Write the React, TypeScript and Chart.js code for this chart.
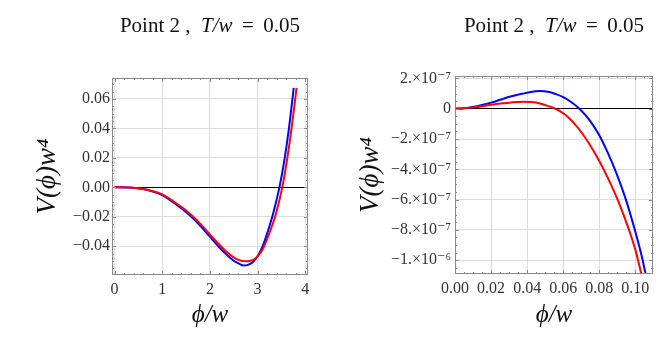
import React, { useEffect, useRef } from "react";
import { Chart, registerables } from "chart.js";

Chart.register(...registerables);

const SERIF = '"Liberation Serif", "DejaVu Serif", serif';

// ---------- shared text ----------
const titleParts = ["Point 2 ,  ", "T/w", " \u2009=\u2009 0.05"];
const xAxisTitle = "ϕ/w";
const yAxisTitle = "V(ϕ)w⁴";

// ---------- left panel ----------
const leftXTicks = [0, 1, 2, 3, 4];
const leftXTickLabels = ["0", "1", "2", "3", "4"];
const leftYTicks = [-0.04, -0.02, 0, 0.02, 0.04, 0.06];
const leftYTickLabels = ["−0.04", "−0.02", "0.00", "0.02", "0.04", "0.06"];

const leftBlueX = [0, 0.3, 0.6, 0.8, 1.0, 1.3, 1.5, 1.65, 1.8, 2.0, 2.2, 2.35, 2.5, 2.6, 2.71, 2.8, 2.9, 3.0, 3.12, 3.22, 3.33, 3.46, 3.57, 3.66, 3.76];
const leftBlueY = [0, -0.0001, -0.0012, -0.0028, -0.0052, -0.0118, -0.0167, -0.0212, -0.0262, -0.0335, -0.0408, -0.0456, -0.0498, -0.0516, -0.0531, -0.0526, -0.0508, -0.0468, -0.039, -0.0295, -0.0176, 0, 0.0197, 0.04, 0.0675];

const leftRedX = [0, 0.3, 0.6, 0.8, 1.0, 1.3, 1.5, 1.65, 1.8, 2.0, 2.2, 2.35, 2.5, 2.6, 2.755, 2.85, 2.93, 3.02, 3.12, 3.25, 3.39, 3.52, 3.625, 3.715, 3.82];
const leftRedY = [0, -0.0001, -0.0011, -0.0026, -0.0048, -0.011, -0.0157, -0.02, -0.0248, -0.0319, -0.039, -0.0437, -0.0475, -0.0492, -0.0502, -0.0498, -0.0488, -0.0462, -0.0413, -0.031, -0.0176, 0, 0.0197, 0.04, 0.0675];

// ---------- right panel ----------
const rightXTicks = [0, 0.02, 0.04, 0.06, 0.08, 0.1];
const rightXTickLabels = ["0.00", "0.02", "0.04", "0.06", "0.08", "0.10"];
const rightYTicks = [-1e-6, -8e-7, -6e-7, -4e-7, -2e-7, 0, 2e-7];
const rightYTickLabels = ["−1.×10⁻⁶", "−8.×10⁻⁷", "−6.×10⁻⁷", "−4.×10⁻⁷", "−2.×10⁻⁷", "0", "2.×10⁻⁷"];

const rightBlueX = [0, 0.005, 0.0107, 0.015, 0.02, 0.025, 0.0302, 0.035, 0.04, 0.0468, 0.0524, 0.056, 0.06, 0.064, 0.069, 0.0746, 0.08, 0.0845, 0.089, 0.0945, 0.0995, 0.1035, 0.1055, 0.1068];
const rightBlueY = [0, 3e-9, 1.3e-8, 2.4e-8, 4.0e-8, 5.9e-8, 7.9e-8, 9.3e-8, 1.06e-7, 1.17e-7, 1.1e-7, 9.6e-8, 7.6e-8, 4.8e-8, 0, -7.5e-8, -1.75e-7, -2.85e-7, -4.1e-7, -5.9e-7, -7.9e-7, -9.7e-7, -1.08e-6, -1.15e-6];

const rightRedX = [0, 0.005, 0.0107, 0.015, 0.02, 0.025, 0.0302, 0.0375, 0.042, 0.045, 0.0506, 0.0557, 0.06, 0.0635, 0.0671, 0.071, 0.0746, 0.08, 0.0855, 0.0905, 0.0965, 0.1, 0.1031, 0.1045];
const rightRedY = [0, 2.5e-9, 1.0e-8, 1.7e-8, 2.6e-8, 3.4e-8, 4.0e-8, 4.6e-8, 4.5e-8, 4.1e-8, 2.2e-8, 0, -3.0e-8, -6.5e-8, -1.12e-7, -1.7e-7, -2.35e-7, -3.45e-7, -4.75e-7, -6.1e-7, -8.0e-7, -9.3e-7, -1.08e-6, -1.15e-6];

const BLUE = "#0000ff";
const RED = "#ff0000";

const toPts = (xs: number[], ys: number[]) => xs.map((x, i) => ({ x, y: ys[i] }));

const framePlugin = {
  id: "frame",
  afterDatasetsDraw(chart: any, _args: any, opts: any) {
    const { ctx, chartArea: a } = chart;
    const xs = chart.scales.x;
    const ys = chart.scales.y;
    ctx.save();
    ctx.strokeStyle = opts.color;
    ctx.lineWidth = 1;
    ctx.strokeRect(Math.round(a.left) + 0.5, Math.round(a.top) + 0.5, Math.round(a.right - a.left) - 1, Math.round(a.bottom - a.top) - 1);
    const ticks = (scale: any, step: number, majorStep: number, horiz: boolean) => {
      const k0 = Math.ceil(scale.min / step - 1e-9);
      const k1 = Math.floor(scale.max / step + 1e-9);
      for (let k = k0; k <= k1; k++) {
        const v = k * step;
        const r = v / majorStep;
        const major = Math.abs(r - Math.round(r)) < 1e-6;
        const len = major ? opts.major : opts.minor;
        const p = Math.round(scale.getPixelForValue(v)) + 0.5;
        ctx.beginPath();
        if (horiz) {
          ctx.moveTo(p, a.bottom);
          ctx.lineTo(p, a.bottom - len);
          ctx.moveTo(p, a.top);
          ctx.lineTo(p, a.top + len);
        } else {
          ctx.moveTo(a.left, p);
          ctx.lineTo(a.left + len, p);
          ctx.moveTo(a.right, p);
          ctx.lineTo(a.right - len, p);
        }
        ctx.stroke();
      }
    };
    ticks(xs, opts.xMinor, opts.xMajor, true);
    ticks(ys, opts.yMinor, opts.yMajor, false);
    ctx.restore();
  },
};

const titlePlugin = {
  id: "mixedTitle",
  afterDraw(chart: any, _args: any, opts: any) {
    const { ctx, chartArea: a } = chart;
    const fonts = [`${opts.size}px ${SERIF}`, `italic ${opts.size}px ${SERIF}`, `${opts.size}px ${SERIF}`];
    ctx.save();
    let total = 0;
    const widths = titleParts.map((t, i) => {
      ctx.font = fonts[i];
      const w = ctx.measureText(t).width;
      total += w;
      return w;
    });
    let x = (a.left + a.right) / 2 - total / 2;
    ctx.fillStyle = "#111";
    ctx.textBaseline = "alphabetic";
    ctx.textAlign = "left";
    titleParts.forEach((t, i) => {
      ctx.font = fonts[i];
      ctx.fillText(t, x, opts.y);
      x += widths[i];
    });
    ctx.restore();
  },
};

type PanelSpec = {
  width: number;
  height: number;
  pad: { top: number; right: number };
  yAxisW: number;
  xAxisH: number;
  xMin: number;
  xMax: number;
  yMin: number;
  yMax: number;
  xTicks: number[];
  xLabels: string[];
  yTicks: number[];
  yLabels: string[];
  blue: { x: number; y: number }[];
  red: { x: number; y: number }[];
  yTitlePad: number;
  yLabelPad: number;
  xMinor: number;
  xMajor: number;
  yMinor: number;
  yMajor: number;
};

function buildConfig(p: PanelSpec): any {
  const tickFont = { family: SERIF, size: 16 };
  return {
    type: "line",
    data: {
      datasets: [
        { label: "red", data: p.red, borderColor: RED, borderWidth: 2, pointRadius: 0, cubicInterpolationMode: "monotone", fill: false, order: 0, clip: 0 },
        { label: "blue", data: p.blue, borderColor: BLUE, borderWidth: 2, pointRadius: 0, cubicInterpolationMode: "monotone", fill: false, order: 1, clip: 0 },
      ],
    },
    options: {
      animation: false,
      responsive: false,
      events: [],
      layout: { padding: { top: p.pad.top, right: p.pad.right, left: 0, bottom: 0 } },
      plugins: {
        legend: { display: false },
        tooltip: { enabled: false },
        title: { display: false },
        frame: { color: "#8a8a8a", major: 4, minor: 2, xMinor: p.xMinor, xMajor: p.xMajor, yMinor: p.yMinor, yMajor: p.yMajor },
        mixedTitle: { y: 32, size: 21 },
      },
      scales: {
        x: {
          type: "linear",
          bounds: "data",
          min: p.xMin,
          max: p.xMax,
          afterBuildTicks: (s: any) => {
            s.ticks = p.xTicks.map((v) => ({ value: v }));
          },
          afterFit: (s: any) => {
            s.height = p.xAxisH;
          },
          ticks: {
            callback: (_v: any, i: number) => p.xLabels[i],
            autoSkip: false,
            maxRotation: 0,
            padding: 5,
            font: tickFont,
            color: "#333",
          },
          grid: { color: "#dcdcdc", drawTicks: false },
          border: { display: false },
          title: { display: true, text: xAxisTitle, font: { family: SERIF, size: 25, style: "italic" }, color: "#111", padding: { top: 0, bottom: 18 } },
        },
        y: {
          type: "linear",
          bounds: "data",
          min: p.yMin,
          max: p.yMax,
          afterBuildTicks: (s: any) => {
            s.ticks = p.yTicks.map((v) => ({ value: v }));
          },
          afterFit: (s: any) => {
            s.width = p.yAxisW;
          },
          ticks: {
            callback: (_v: any, i: number) => p.yLabels[i],
            autoSkip: false,
            padding: p.yLabelPad,
            font: tickFont,
            color: "#333",
          },
          grid: {
            color: (c: any) => (c.tick && c.tick.value === 0 ? "#000" : "#dcdcdc"),
            drawTicks: false,
          },
          border: { display: false },
          title: { display: true, text: yAxisTitle, font: { family: SERIF, size: 27, style: "italic" }, color: "#111", padding: { top: p.yTitlePad, bottom: 0 } },
        },
      },
    },
    plugins: [framePlugin, titlePlugin],
  };
}

const leftSpec: PanelSpec = {
  width: 333,
  height: 348,
  pad: { top: 78, right: 25 },
  yAxisW: 112,
  xAxisH: 73,
  xMin: -0.055,
  xMax: 4.06,
  yMin: -0.0595,
  yMax: 0.0742,
  xTicks: leftXTicks,
  xLabels: leftXTickLabels,
  yTicks: leftYTicks,
  yLabels: leftYTickLabels,
  blue: toPts(leftBlueX, leftBlueY),
  red: toPts(leftRedX, leftRedY),
  yTitlePad: 32,
  yLabelPad: 2,
  xMinor: 0.2,
  xMajor: 1,
  yMinor: 0.005,
  yMajor: 0.02,
};

const rightSpec: PanelSpec = {
  width: 334,
  height: 348,
  pad: { top: 76, right: 14 },
  yAxisW: 122,
  xAxisH: 74,
  xMin: 0,
  xMax: 0.1098,
  yMin: -1.091e-6,
  yMax: 2.16e-7,
  xTicks: rightXTicks,
  xLabels: rightXTickLabels,
  yTicks: rightYTicks,
  yLabels: rightYTickLabels,
  blue: toPts(rightBlueX, rightBlueY),
  red: toPts(rightRedX, rightRedY),
  yTitlePad: 22,
  yLabelPad: 4,
  xMinor: 0.005,
  xMajor: 0.02,
  yMinor: 5e-8,
  yMajor: 2e-7,
};

function Panel({ spec, left }: { spec: PanelSpec; left: number }) {
  const ref = useRef<HTMLCanvasElement | null>(null);
  useEffect(() => {
    if (!ref.current) return;
    const chart = new Chart(ref.current, buildConfig(spec));
    return () => chart.destroy();
  }, [spec]);
  return (
    <canvas
      ref={ref}
      width={spec.width}
      height={spec.height}
      style={{ position: "absolute", left, top: 0, width: spec.width, height: spec.height }}
    />
  );
}

export default function App() {
  return (
    <div style={{ position: "fixed", left: 0, top: 0, width: 667, height: 348, background: "#fff" }}>
      <Panel spec={leftSpec} left={0} />
      <Panel spec={rightSpec} left={333} />
    </div>
  );
}
